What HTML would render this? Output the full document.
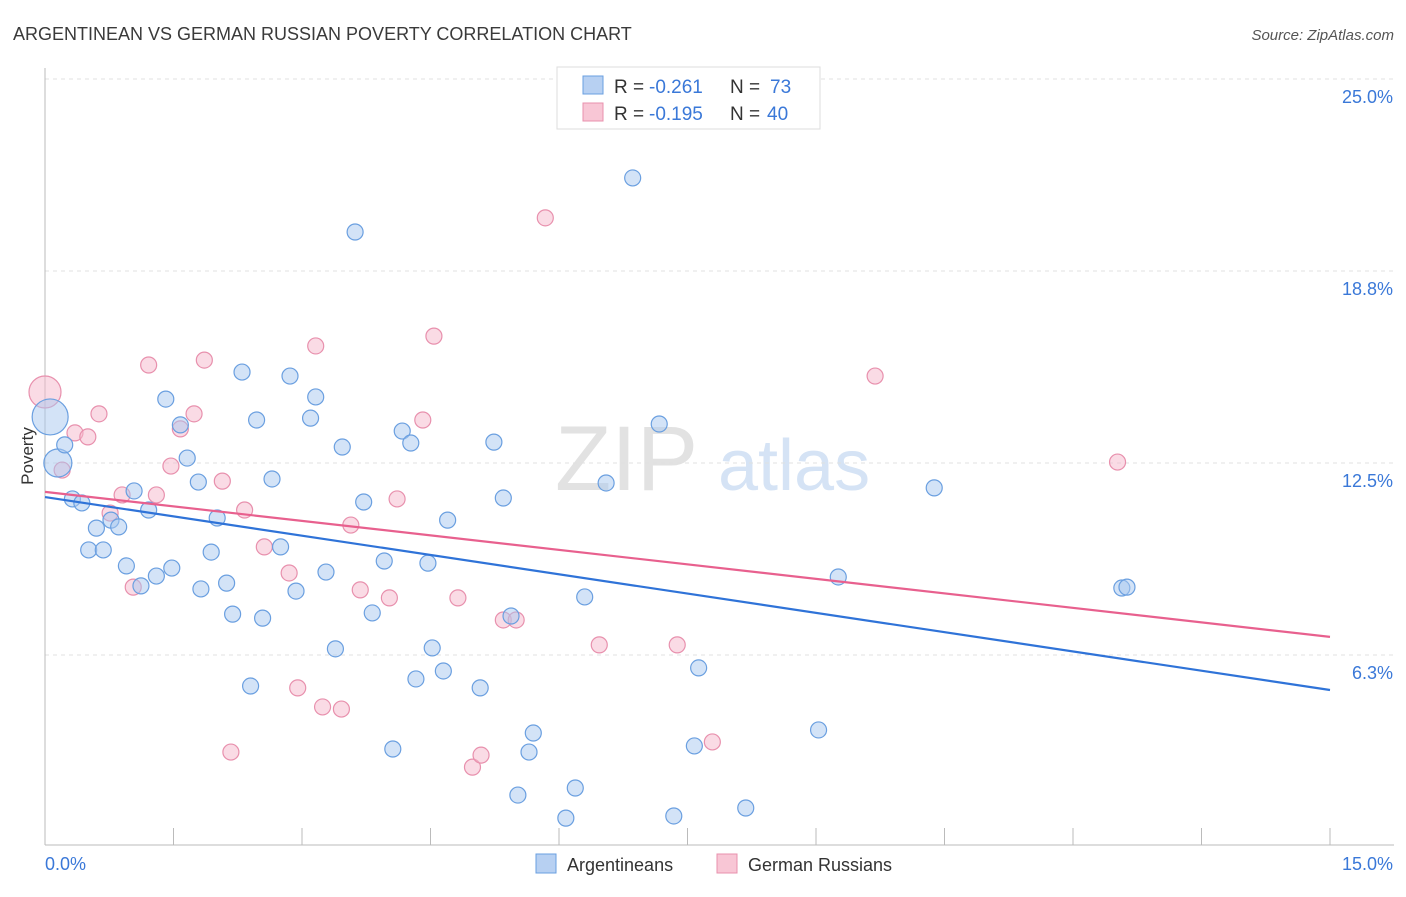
<!DOCTYPE html>
<html><head><meta charset="utf-8"><style>
body{margin:0;background:#fff;font-family:"Liberation Sans",sans-serif;}
svg text{font-family:"Liberation Sans",sans-serif;}
</style></head><body>
<svg id="chart" width="1406" height="892" viewBox="0 0 1406 892" xmlns="http://www.w3.org/2000/svg">
<text x="13" y="40" font-size="18" fill="#3a3a3a">ARGENTINEAN VS GERMAN RUSSIAN POVERTY CORRELATION CHART</text>
<text x="1394" y="40" font-size="15" fill="#555" text-anchor="end" font-style="italic">Source: ZipAtlas.com</text>
<g>
<text x="555" y="490" font-size="92" fill="#e2e2e2" font-family="Liberation Serif">ZIP</text>
<text x="718" y="490" font-size="72" fill="#d5e3f5">atlas</text>
</g>
<g id="grid"></g>
<g id="axes"></g>
<g id="pts"></g>
<g id="lines"></g>
<text transform="translate(33,456) rotate(-90)" font-size="17" fill="#333" text-anchor="middle">Poverty</text>
<g>
<rect x="557" y="67" width="263" height="62" fill="#fff" stroke="#ddd"/>
<rect x="583" y="76" width="20" height="18" fill="#b7d0f2" stroke="#6a9fe0"/>
<rect x="583" y="103" width="20" height="18" fill="#f8c6d5" stroke="#e890ad"/>
<text x="614" y="93" font-size="19" fill="#333">R =</text>
<text x="649" y="93" font-size="19" fill="#3a78d8">-0.261</text>
<text x="730" y="93" font-size="19" fill="#333">N =</text>
<text x="770" y="93" font-size="19" fill="#3a78d8">73</text>
<text x="614" y="120" font-size="19" fill="#333">R =</text>
<text x="649" y="120" font-size="19" fill="#3a78d8">-0.195</text>
<text x="730" y="120" font-size="19" fill="#333">N =</text>
<text x="767" y="120" font-size="19" fill="#3a78d8">40</text>
</g>
<g>
<rect x="536" y="854" width="20" height="19" fill="#b7d0f2" stroke="#6a9fe0"/>
<text x="567" y="871" font-size="18" fill="#333">Argentineans</text>
<rect x="717" y="854" width="20" height="19" fill="#f8c6d5" stroke="#e890ad"/>
<text x="748" y="871" font-size="18" fill="#333">German Russians</text>
</g>
</svg>
<script>
const xTicks=[0,1.5,3,4.5,6,7.5,9,10.5,12,13.5,15];
const yTicks=[6.25,12.5,18.75,25];
const yTickLabels=["6.3%","12.5%","18.8%","25.0%"];
const blueX=[0.06,0.15,0.23,0.32,0.43,0.51,0.60,0.68,0.77,0.86,0.95,1.04,1.12,1.21,1.30,1.41,1.48,1.58,1.66,1.79,1.82,1.94,2.01,2.12,2.19,2.30,2.40,2.47,2.54,2.65,2.75,2.86,2.93,3.10,3.16,3.28,3.39,3.47,3.62,3.72,3.82,3.96,4.06,4.17,4.27,4.33,4.47,4.52,4.65,4.70,5.08,5.24,5.35,5.44,5.52,5.65,5.70,6.08,6.19,6.30,6.55,6.86,7.17,7.34,7.58,7.63,8.18,9.03,9.26,10.38,12.57,12.63];
const blueY=[14.0,12.5,13.09,11.33,11.2,9.67,10.38,9.67,10.64,10.42,9.15,11.59,8.5,10.97,8.82,14.58,9.08,13.74,12.66,11.88,8.4,9.6,10.71,8.59,7.58,15.46,5.24,13.9,7.45,11.98,9.77,15.33,8.33,13.96,14.65,8.95,6.45,13.02,20.02,11.23,7.62,9.31,3.19,13.54,13.15,5.47,9.24,6.48,5.73,10.64,5.18,13.18,11.36,7.52,1.69,3.09,3.71,0.94,1.92,8.14,11.85,21.78,13.77,1.01,3.29,5.83,1.27,3.81,8.79,11.69,8.43,8.46];
const blueR=[18,14,10];
const pinkX=[0,0.20,0.35,0.50,0.63,0.76,0.90,1.03,1.21,1.30,1.47,1.58,1.74,1.86,2.07,2.17,2.33,2.56,2.85,2.95,3.16,3.24,3.46,3.57,3.68,4.02,4.11,4.41,4.54,4.82,4.99,5.09,5.35,5.50,5.84,6.47,7.38,7.79,9.69,12.52];
const pinkY=[14.81,12.27,13.48,13.35,14.1,10.87,11.46,8.46,15.69,11.46,12.4,13.61,14.1,15.85,11.91,3.09,10.97,9.77,8.92,5.18,16.31,4.56,4.49,10.48,8.37,8.11,11.33,13.9,16.63,8.11,2.6,2.99,7.39,7.39,20.48,6.58,6.58,3.42,15.33,12.53];
const pinkR=[16];
const blueTrend=[11.39,5.11];
const pinkTrend=[11.56,6.84];
const NS="http://www.w3.org/2000/svg";
const sx=v=>45+v/15*1285;
const sy=v=>79+(25-v)*30.72;
function mk(tag,at,parent){const e=document.createElementNS(NS,tag);for(const k in at)e.setAttribute(k,at[k]);parent.appendChild(e);return e;}
const grid=document.getElementById('grid'),axes=document.getElementById('axes'),pts=document.getElementById('pts'),lines=document.getElementById('lines');
yTicks.forEach((t,i)=>{
 const l=mk('line',{x1:45,x2:1394,y1:sy(t),y2:sy(t),stroke:'#e0e0e0','stroke-dasharray':'4,4'},grid);
 
 
 const tx=mk('text',{x:1393,y:sy(t)+24,'font-size':18,fill:'#3a78d8','text-anchor':'end'},axes);
 tx.textContent=yTickLabels[i];
 
 
});
mk('line',{x1:45,x2:45,y1:68,y2:845,stroke:'#bbb'},axes);
mk('line',{x1:45,x2:1394,y1:845,y2:845,stroke:'#bbb'},axes);
xTicks.forEach(t=>{
 const l=mk('line',{x1:sx(t),x2:sx(t),y1:828,y2:845,stroke:'#bbb'},axes);
 
 
});
const xl0=mk('text',{x:45,y:870,'font-size':18,fill:'#3a78d8'},axes);xl0.textContent="0.0%";


const xl1=mk('text',{x:1393,y:870,'font-size':18,fill:'#3a78d8','text-anchor':'end'},axes);xl1.textContent="15.0%";


function drawPts(X,Y,R,fill,stroke,name){
 X.forEach((x,i)=>{
  const c=mk('circle',{cx:sx(x),cy:sy(Y[i]),r:(i<R.length&&R[i]>10)?R[i]:8,fill:fill,'fill-opacity':0.5,stroke:stroke,'stroke-width':1.2},pts);
  
  
 });
}
drawPts(pinkX,pinkY,pinkR,'#f5b8cb','#e890ad','german-russian-point');
drawPts(blueX,blueY,blueR,'#a8c8f0','#6a9fe0','argentinean-point');
const bl=mk('line',{x1:sx(0),y1:sy(blueTrend[0]),x2:sx(15),y2:sy(blueTrend[1]),stroke:'#2f73d8','stroke-width':2.2},lines);


const pl=mk('line',{x1:sx(0),y1:sy(pinkTrend[0]),x2:sx(15),y2:sy(pinkTrend[1]),stroke:'#e8608e','stroke-width':2.2},lines);


</script>
</body></html>
